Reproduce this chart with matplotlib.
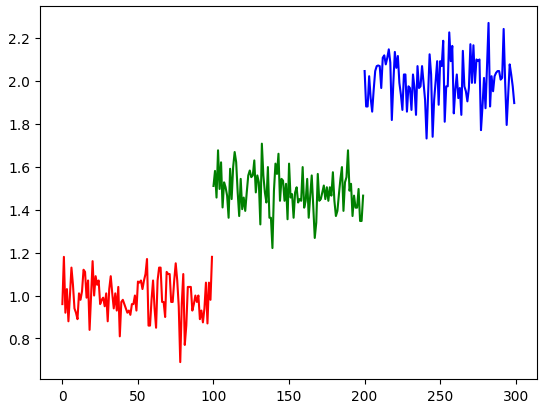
import matplotlib
matplotlib.use("Agg")
import matplotlib.pyplot as plt
import numpy as np

red_vals = [
    0.96, 1.18, 0.92, 1.03, 0.88, 1.00, 1.13, 1.05, 0.94, 0.92,
    0.89, 1.01, 0.98, 1.02, 1.12, 1.11, 0.99, 1.07, 0.84, 1.00,
    1.16, 1.00, 1.09, 1.05, 1.07, 0.96, 0.98, 0.99, 0.95, 1.01,
    0.88, 1.03, 1.09, 1.01, 0.94, 1.01, 0.93, 1.04, 0.81, 0.97,
    0.98, 0.96, 0.94, 0.92, 0.93, 0.91, 0.96, 0.96, 1.00, 0.93,
    1.065, 1.06, 1.07, 1.03, 1.07, 1.10, 1.17, 0.86, 0.86, 0.98,
    1.07, 0.94, 0.85, 1.07, 1.13, 1.13, 0.97, 0.97, 0.90, 1.11,
    1.10, 1.10, 0.97, 0.97, 1.07, 1.15, 1.07, 0.95, 0.69, 0.96,
    1.10, 0.77, 0.86, 1.04, 1.04, 1.04, 0.93, 0.96, 1.00, 0.97,
    1.00, 0.89, 0.93, 0.875, 0.94, 1.06, 0.87, 1.06, 0.98, 1.18,
]

green_vals = [
    1.51, 1.58, 1.456, 1.676, 1.496, 1.62, 1.41, 1.527, 1.504, 1.465,
    1.362, 1.59, 1.449, 1.598, 1.668, 1.621, 1.48, 1.37, 1.543, 1.402,
    1.456, 1.394, 1.48, 1.559, 1.582, 1.551, 1.559, 1.629, 1.48, 1.559,
    1.527, 1.331, 1.707, 1.559, 1.48, 1.433, 1.598, 1.362, 1.362, 1.221,
    1.488, 1.614, 1.566, 1.66, 1.441, 1.543, 1.535, 1.441, 1.52, 1.355,
    1.614, 1.456, 1.472, 1.362, 1.48, 1.504, 1.433, 1.449, 1.441, 1.598,
    1.409, 1.441, 1.543, 1.362, 1.465, 1.559, 1.417, 1.268, 1.339, 1.566,
    1.441, 1.449, 1.48, 1.512, 1.449, 1.504, 1.441, 1.504, 1.465, 1.574,
    1.441, 1.37, 1.394, 1.472, 1.543, 1.598, 1.394, 1.527, 1.551, 1.676,
    1.488, 1.52, 1.37, 1.465, 1.409, 1.409, 1.496, 1.347, 1.347, 1.465,
]

blue_vals = [
    2.045, 1.880, 1.880, 2.021, 1.919, 1.856, 1.958, 2.045, 2.068, 2.071,
    2.068, 1.966, 2.107, 2.118, 2.076, 2.107, 2.146, 2.084, 1.817, 1.990,
    2.134, 2.060, 2.115, 1.990, 1.935, 1.864, 2.029, 2.029, 1.856, 1.974,
    1.966, 1.864, 2.029, 1.966, 1.841, 2.068, 1.966, 1.974, 2.068, 1.990,
    1.911, 1.731, 1.935, 2.123, 2.029, 1.739, 1.911, 1.998, 2.091, 1.888,
    2.091, 2.068, 2.186, 1.809, 1.974, 1.974, 2.225, 2.091, 2.162, 1.848,
    1.958, 2.029, 1.919, 1.966, 1.841, 2.139, 1.974, 1.951, 1.904, 1.966,
    2.170, 1.990, 2.165, 1.990, 2.099, 2.091, 2.099, 1.770, 1.880, 2.013,
    1.872, 2.068, 2.269, 1.880, 2.021, 1.951, 2.021, 2.037, 2.045, 2.045,
    2.005, 2.013, 2.241, 1.990, 1.794, 1.935, 2.076, 2.029, 1.974, 1.896,
]

series = [("red", red_vals, 0), ("green", green_vals, 100), ("blue", blue_vals, 200)]

fig = plt.figure(figsize=(5.45, 4.10), dpi=100)
ax = fig.add_axes([0.073, 0.073, 0.912, 0.91])
for color, vals, start in series:
    x = np.arange(start, start + len(vals))
    ax.plot(x, vals, color=color, linewidth=1.5)

ax.set_xticks([0, 50, 100, 150, 200, 250, 300])
ax.set_yticks([0.8, 1.0, 1.2, 1.4, 1.6, 1.8, 2.0, 2.2])
fig.savefig("out.png", dpi=100)
